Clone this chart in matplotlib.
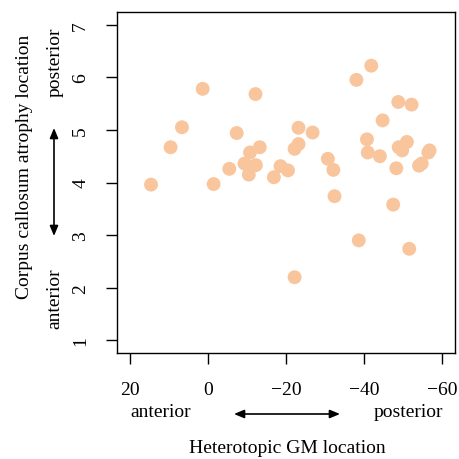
import numpy as np
import matplotlib.pyplot as plt

plt.rcParams['font.family'] = ['Liberation Serif', 'DejaVu Serif']

# heterotopic GM location (x) vs corpus callosum atrophy location (y)
gm_loc = [14.5, 9.5, 6.6, 1.3, -1.5, -5.5, -7.4, -9.4, -10.5, -10.8, -12.2, -12.3,
          -13.3, -16.9, -18.6, -20.5, -22.2, -22.2, -23.2, -23.2, -26.8, -30.7,
          -32.1, -32.4, -38.0, -38.6, -40.7, -40.9, -41.8, -44.0, -44.7, -47.4,
          -48.2, -48.7, -48.8, -49.7, -50.9, -51.5, -52.1, -54.0, -54.7, -56.4, -56.7]
cc_loc = [3.96, 4.67, 5.05, 5.78, 3.97, 4.26, 4.94, 4.36, 4.15, 4.57, 5.68, 4.33,
          4.67, 4.10, 4.31, 4.23, 2.20, 4.64, 4.73, 5.04, 4.95, 4.45,
          4.24, 3.74, 5.95, 2.90, 4.82, 4.57, 6.22, 4.50, 5.18, 3.58,
          4.27, 5.53, 4.67, 4.61, 4.77, 2.74, 5.48, 4.32, 4.36, 4.57, 4.61]
xticks = [20, 0, -20, -40, -60]
yticks = [1, 2, 3, 4, 5, 6, 7]

W, H = 459, 460
fig = plt.figure(figsize=(W / 100, H / 100), dpi=100)
ax = fig.add_axes([117 / W, 1 - 354 / H, (455 - 117) / W, (354 - 13) / H])

ax.scatter(gm_loc, cc_loc, s=100, color='#F9C59D', edgecolors='none', zorder=3)

ax.set_xlim(23.2, -63.2)
ax.set_ylim(0.76, 7.24)
ax.set_xticks(xticks)
ax.set_xticklabels([('\u2212%d' % -t if t < 0 else str(t)) for t in xticks])
ax.set_yticks(yticks)
ax.set_yticklabels([str(t) for t in yticks], rotation=90, va='center')
ax.tick_params(direction='out', length=8, width=1, labelsize=14, pad=12)
for sp in ax.spines.values():
    sp.set_linewidth(1)

def fx(px):
    return px / W

def fy(py):
    return 1 - py / H

arrow = dict(arrowstyle='<|-|>,head_length=0.6,head_width=0.25', color='black',
             lw=1.2, shrinkA=0, shrinkB=0)

# x-axis annotations
fig.text(fx(161), fy(413), 'anterior', ha='center', va='center', fontsize=14)
fig.text(fx(408), fy(413), 'posterior', ha='center', va='center', fontsize=14)
fig.text(fx(287), fy(449), 'Heterotopic GM location', ha='center', va='center', fontsize=14)
ax.annotate('', xy=(fx(340), fy(415)), xytext=(fx(234), fy(415)), xycoords='figure fraction',
            textcoords='figure fraction', arrowprops=arrow)

# y-axis annotations
fig.text(fx(25), fy(167), 'Corpus callosum atrophy location', ha='center', va='center',
         rotation=90, fontsize=14)
fig.text(fx(55), fy(62), 'posterior', ha='center', va='center', rotation=90, fontsize=14)
fig.text(fx(55), fy(299), 'anterior', ha='center', va='center', rotation=90, fontsize=14)
ax.annotate('', xy=(fx(54), fy(129)), xytext=(fx(54), fy(237)), xycoords='figure fraction',
            textcoords='figure fraction', arrowprops=arrow)

fig.savefig('out.png', dpi=100)
